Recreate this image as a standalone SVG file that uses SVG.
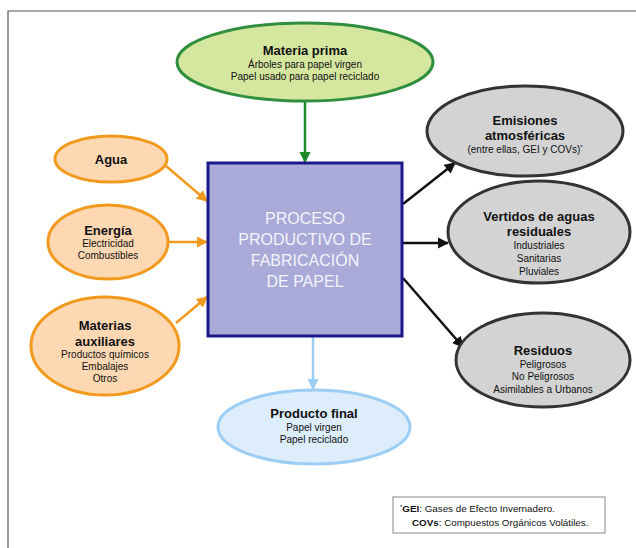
<svg xmlns="http://www.w3.org/2000/svg" width="636" height="548" viewBox="0 0 636 548">
<style>
text{font-family:"Liberation Sans",Arial,sans-serif;text-anchor:middle;fill:#111}
.t{font-size:13px;font-weight:bold}
.s{font-size:10px}
.big{font-size:16px;fill:#f4f4fa}
.or{fill:#fdd8b3;stroke:#f29a1e;stroke-width:3}
.gr{fill:#d3d3d3;stroke:#333;stroke-width:3}
.fn{font-size:9.8px;text-anchor:start}
</style>
<defs>
<marker id="ag" viewBox="0 0 10 10" refX="9" refY="5" markerWidth="4.5" markerHeight="4.5" orient="auto"><path d="M0,0L10,5L0,10z" fill="#1f8a2c"/></marker>
<marker id="ao" viewBox="0 0 10 10" refX="9" refY="5" markerWidth="4.5" markerHeight="4.5" orient="auto"><path d="M0,0L10,5L0,10z" fill="#f29a1e"/></marker>
<marker id="ak" viewBox="0 0 10 10" refX="9" refY="5" markerWidth="4.5" markerHeight="4.5" orient="auto"><path d="M0,0L10,5L0,10z" fill="#111"/></marker>
<marker id="ab" viewBox="0 0 10 10" refX="9" refY="5" markerWidth="4.5" markerHeight="4.5" orient="auto"><path d="M0,0L10,5L0,10z" fill="#9ccdf4"/></marker>
</defs>
<rect width="636" height="548" fill="#fff"/>
<path d="M8,548V11H636" fill="none" stroke="#555" stroke-width="1.2"/>
<g id="connectors" fill="none">
<line x1="305" y1="101" x2="305" y2="162" stroke="#1f8a2c" stroke-width="2.5" marker-end="url(#ag)"/>
<line x1="166" y1="166" x2="207" y2="201" stroke="#f29a1e" stroke-width="2.5" marker-end="url(#ao)"/>
<line x1="168" y1="242" x2="207" y2="242" stroke="#f29a1e" stroke-width="2.5" marker-end="url(#ao)"/>
<line x1="176" y1="323" x2="207" y2="297" stroke="#f29a1e" stroke-width="2.5" marker-end="url(#ao)"/>
<line x1="403" y1="204" x2="455" y2="163" stroke="#111" stroke-width="2.5" marker-end="url(#ak)"/>
<line x1="403" y1="243" x2="448" y2="243" stroke="#111" stroke-width="2.5" marker-end="url(#ak)"/>
<line x1="403" y1="278" x2="463" y2="347" stroke="#111" stroke-width="2.5" marker-end="url(#ak)"/>
<line x1="313" y1="337" x2="313" y2="389" stroke="#9ccdf4" stroke-width="2.5" marker-end="url(#ab)"/>
</g>
<g id="materia-prima">
<ellipse cx="305" cy="62" rx="128" ry="39" fill="#d5e69f" stroke="#2f8f3f" stroke-width="3"/>
<text class="t" x="305" y="55">Materia prima</text>
<text class="s" x="305" y="68">Árboles para papel virgen</text>
<text class="s" x="305" y="80">Papel usado para papel reciclado</text>
</g>
<g id="proceso">
<rect x="208" y="163" width="194" height="173" fill="#a9aad8" stroke="#1b1a8a" stroke-width="3"/>
<text class="big" x="305" y="224">PROCESO</text>
<text class="big" x="305" y="245">PRODUCTIVO DE</text>
<text class="big" x="305" y="266">FABRICACIÓN</text>
<text class="big" x="305" y="287">DE PAPEL</text>
</g>
<g id="agua">
<ellipse class="or" cx="111" cy="159" rx="56" ry="23"/>
<text class="t" x="111" y="164">Agua</text>
</g>
<g id="energia">
<ellipse class="or" cx="108" cy="242" rx="60" ry="37"/>
<text class="t" x="108" y="235">Energía</text>
<text class="s" x="108" y="247">Electricidad</text>
<text class="s" x="108" y="259">Combustibles</text>
</g>
<g id="materias-auxiliares">
<ellipse class="or" cx="105" cy="346" rx="74" ry="49"/>
<text class="t" x="105" y="330">Materias</text>
<text class="t" x="105" y="346">auxiliares</text>
<text class="s" x="105" y="358">Productos químicos</text>
<text class="s" x="105" y="370">Embalajes</text>
<text class="s" x="105" y="382">Otros</text>
</g>
<g id="emisiones">
<ellipse class="gr" cx="525" cy="131" rx="98" ry="45"/>
<text class="t" x="525" y="125">Emisiones</text>
<text class="t" x="525" y="140">atmosféricas</text>
<text class="s" x="525" y="153">(entre ellas, GEI y COVs)<tspan font-size="6" dy="-4">*</tspan></text>
</g>
<g id="vertidos">
<ellipse class="gr" cx="539" cy="232" rx="91" ry="51"/>
<text class="t" x="539" y="221">Vertidos de aguas</text>
<text class="t" x="539" y="236">residuales</text>
<text class="s" x="539" y="249">Industriales</text>
<text class="s" x="539" y="262">Sanitarias</text>
<text class="s" x="539" y="275">Pluviales</text>
</g>
<g id="residuos">
<ellipse class="gr" cx="543" cy="360" rx="87" ry="47"/>
<text class="t" x="543" y="355">Residuos</text>
<text class="s" x="543" y="368">Peligrosos</text>
<text class="s" x="543" y="380">No Peligrosos</text>
<text class="s" x="543" y="393">Asimilables a Urbanos</text>
</g>
<g id="producto-final">
<ellipse cx="314" cy="427" rx="96" ry="37" fill="#ddedfb" stroke="#9ccdf4" stroke-width="3"/>
<text class="t" x="314" y="418">Producto final</text>
<text class="s" x="314" y="431">Papel virgen</text>
<text class="s" x="314" y="443">Papel reciclado</text>
</g>
<g id="nota">
<rect x="393" y="497" width="212" height="36" fill="#fff" stroke="#888" stroke-width="1"/>
<text class="fn" x="400" y="512"><tspan font-size="6" dy="-3">*</tspan><tspan dy="3" font-weight="bold">GEI</tspan>: Gases de Efecto Invernadero.</text>
<text class="fn" x="412" y="526"><tspan font-weight="bold">COVs</tspan>: Compuestos Orgánicos Volátiles.</text>
</g>
</svg>
